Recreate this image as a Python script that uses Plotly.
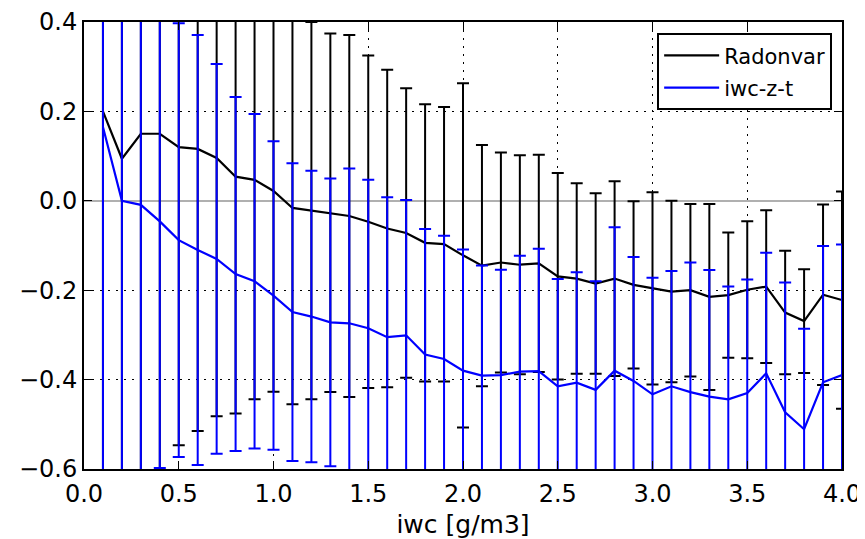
import plotly.graph_objects as go

iwc = [0.1, 0.2, 0.3, 0.4, 0.5, 0.6, 0.7, 0.8, 0.9, 1.0,
       1.1, 1.2, 1.3, 1.4, 1.5, 1.6, 1.7, 1.8, 1.9, 2.0,
       2.1, 2.2, 2.3, 2.4, 2.5, 2.6, 2.7, 2.8, 2.9, 3.0,
       3.1, 3.2, 3.3, 3.4, 3.5, 3.6, 3.7, 3.8, 3.9, 4.0]

radonvar_mean = [0.200, 0.094, 0.150, 0.150, 0.120, 0.116, 0.096, 0.054, 0.047, 0.022,
                 -0.016, -0.022, -0.027, -0.034, -0.047, -0.062, -0.072, -0.094, -0.097, -0.122,
                 -0.145, -0.138, -0.143, -0.140, -0.169, -0.174, -0.185, -0.174, -0.188, -0.196,
                 -0.203, -0.200, -0.215, -0.211, -0.199, -0.192, -0.250, -0.269, -0.210, -0.222]
radonvar_err = [1.000, 0.850, 0.800, 0.800, 0.667, 0.631, 0.578, 0.530, 0.491, 0.449,
                0.439, 0.422, 0.401, 0.405, 0.372, 0.355, 0.324, 0.310, 0.307, 0.385,
                0.270, 0.246, 0.245, 0.243, 0.231, 0.213, 0.202, 0.218, 0.187, 0.215,
                0.203, 0.193, 0.208, 0.140, 0.153, 0.171, 0.138, 0.116, 0.202, 0.243]

iwczt_mean = [0.165, 0.000, -0.009, -0.046, -0.088, -0.110, -0.130, -0.164, -0.180, -0.212,
              -0.249, -0.259, -0.272, -0.274, -0.285, -0.305, -0.301, -0.344, -0.354, -0.380,
              -0.391, -0.390, -0.382, -0.381, -0.415, -0.407, -0.423, -0.380, -0.403, -0.433,
              -0.415, -0.428, -0.438, -0.444, -0.430, -0.386, -0.473, -0.511, -0.406, -0.390]
iwczt_err = [0.900, 0.750, 0.700, 0.552, 0.485, 0.481, 0.436, 0.396, 0.374, 0.345,
             0.333, 0.326, 0.322, 0.346, 0.332, 0.313, 0.303, 0.281, 0.276, 0.271,
             0.246, 0.236, 0.259, 0.274, 0.240, 0.247, 0.243, 0.321, 0.277, 0.261,
             0.258, 0.290, 0.283, 0.252, 0.254, 0.270, 0.290, 0.225, 0.305, 0.292]

x_ticks = [0.0, 0.5, 1.0, 1.5, 2.0, 2.5, 3.0, 3.5, 4.0]
y_ticks = [-0.6, -0.4, -0.2, 0.0, 0.2, 0.4]

fig = go.Figure()
fig.add_trace(go.Scatter(
    x=iwc, y=radonvar_mean, mode="lines", name="Radonvar", legendgroup="a",
    line=dict(color="#000000", width=2.2),
    error_y=dict(type="data", array=radonvar_err, visible=True,
                 color="#000000", thickness=2, width=6),
))
fig.add_trace(go.Scatter(
    x=iwc, y=iwczt_mean, mode="lines", name="iwc-z-t", legendgroup="b",
    line=dict(color="#0000ff", width=2.2),
    error_y=dict(type="data", array=iwczt_err, visible=True,
                 color="#0000ff", thickness=2, width=6),
))

axis_common = dict(
    showline=True, linecolor="black", linewidth=2, mirror="allticks",
    ticks="inside", ticklen=8, tickwidth=1, tickcolor="black",
    showgrid=True, gridcolor="black", gridwidth=1, griddash="2px,6px",
    tickfont=dict(family="DejaVu Sans", size=24, color="black"),
    automargin=False,
)

fig.update_xaxes(
    range=[0, 4], tickvals=x_ticks, ticktext=[f"{v:.1f}" for v in x_ticks],
    zeroline=False, ticklabelstandoff=2,
    title=dict(text="iwc [g/m3]", font=dict(family="DejaVu Sans", size=25, color="black"), standoff=10),
    **axis_common,
)
fig.update_yaxes(
    range=[-0.6, 0.4], tickvals=y_ticks,
    ticktext=[("\u2212" if v < 0 else "") + f"{abs(v):.1f}" for v in y_ticks],
    zeroline=True, zerolinecolor="#b0b0b0", zerolinewidth=2,
    **axis_common,
)

# The page body has an 8px default margin, so the figure is sized to fit the window
fig.update_layout(
    width=857, height=531,
    margin=dict(l=76, r=23, t=14, b=70),
    paper_bgcolor="white", plot_bgcolor="white",
    showlegend=True,
    legend=dict(
        x=0.987, y=0.975, xanchor="right", yanchor="top",
        bordercolor="black", borderwidth=2, bgcolor="white",
        font=dict(family="DejaVu Sans", size=21, color="black"),
        tracegroupgap=2, itemwidth=55,
    ),
)

fig.write_html("out.html")
